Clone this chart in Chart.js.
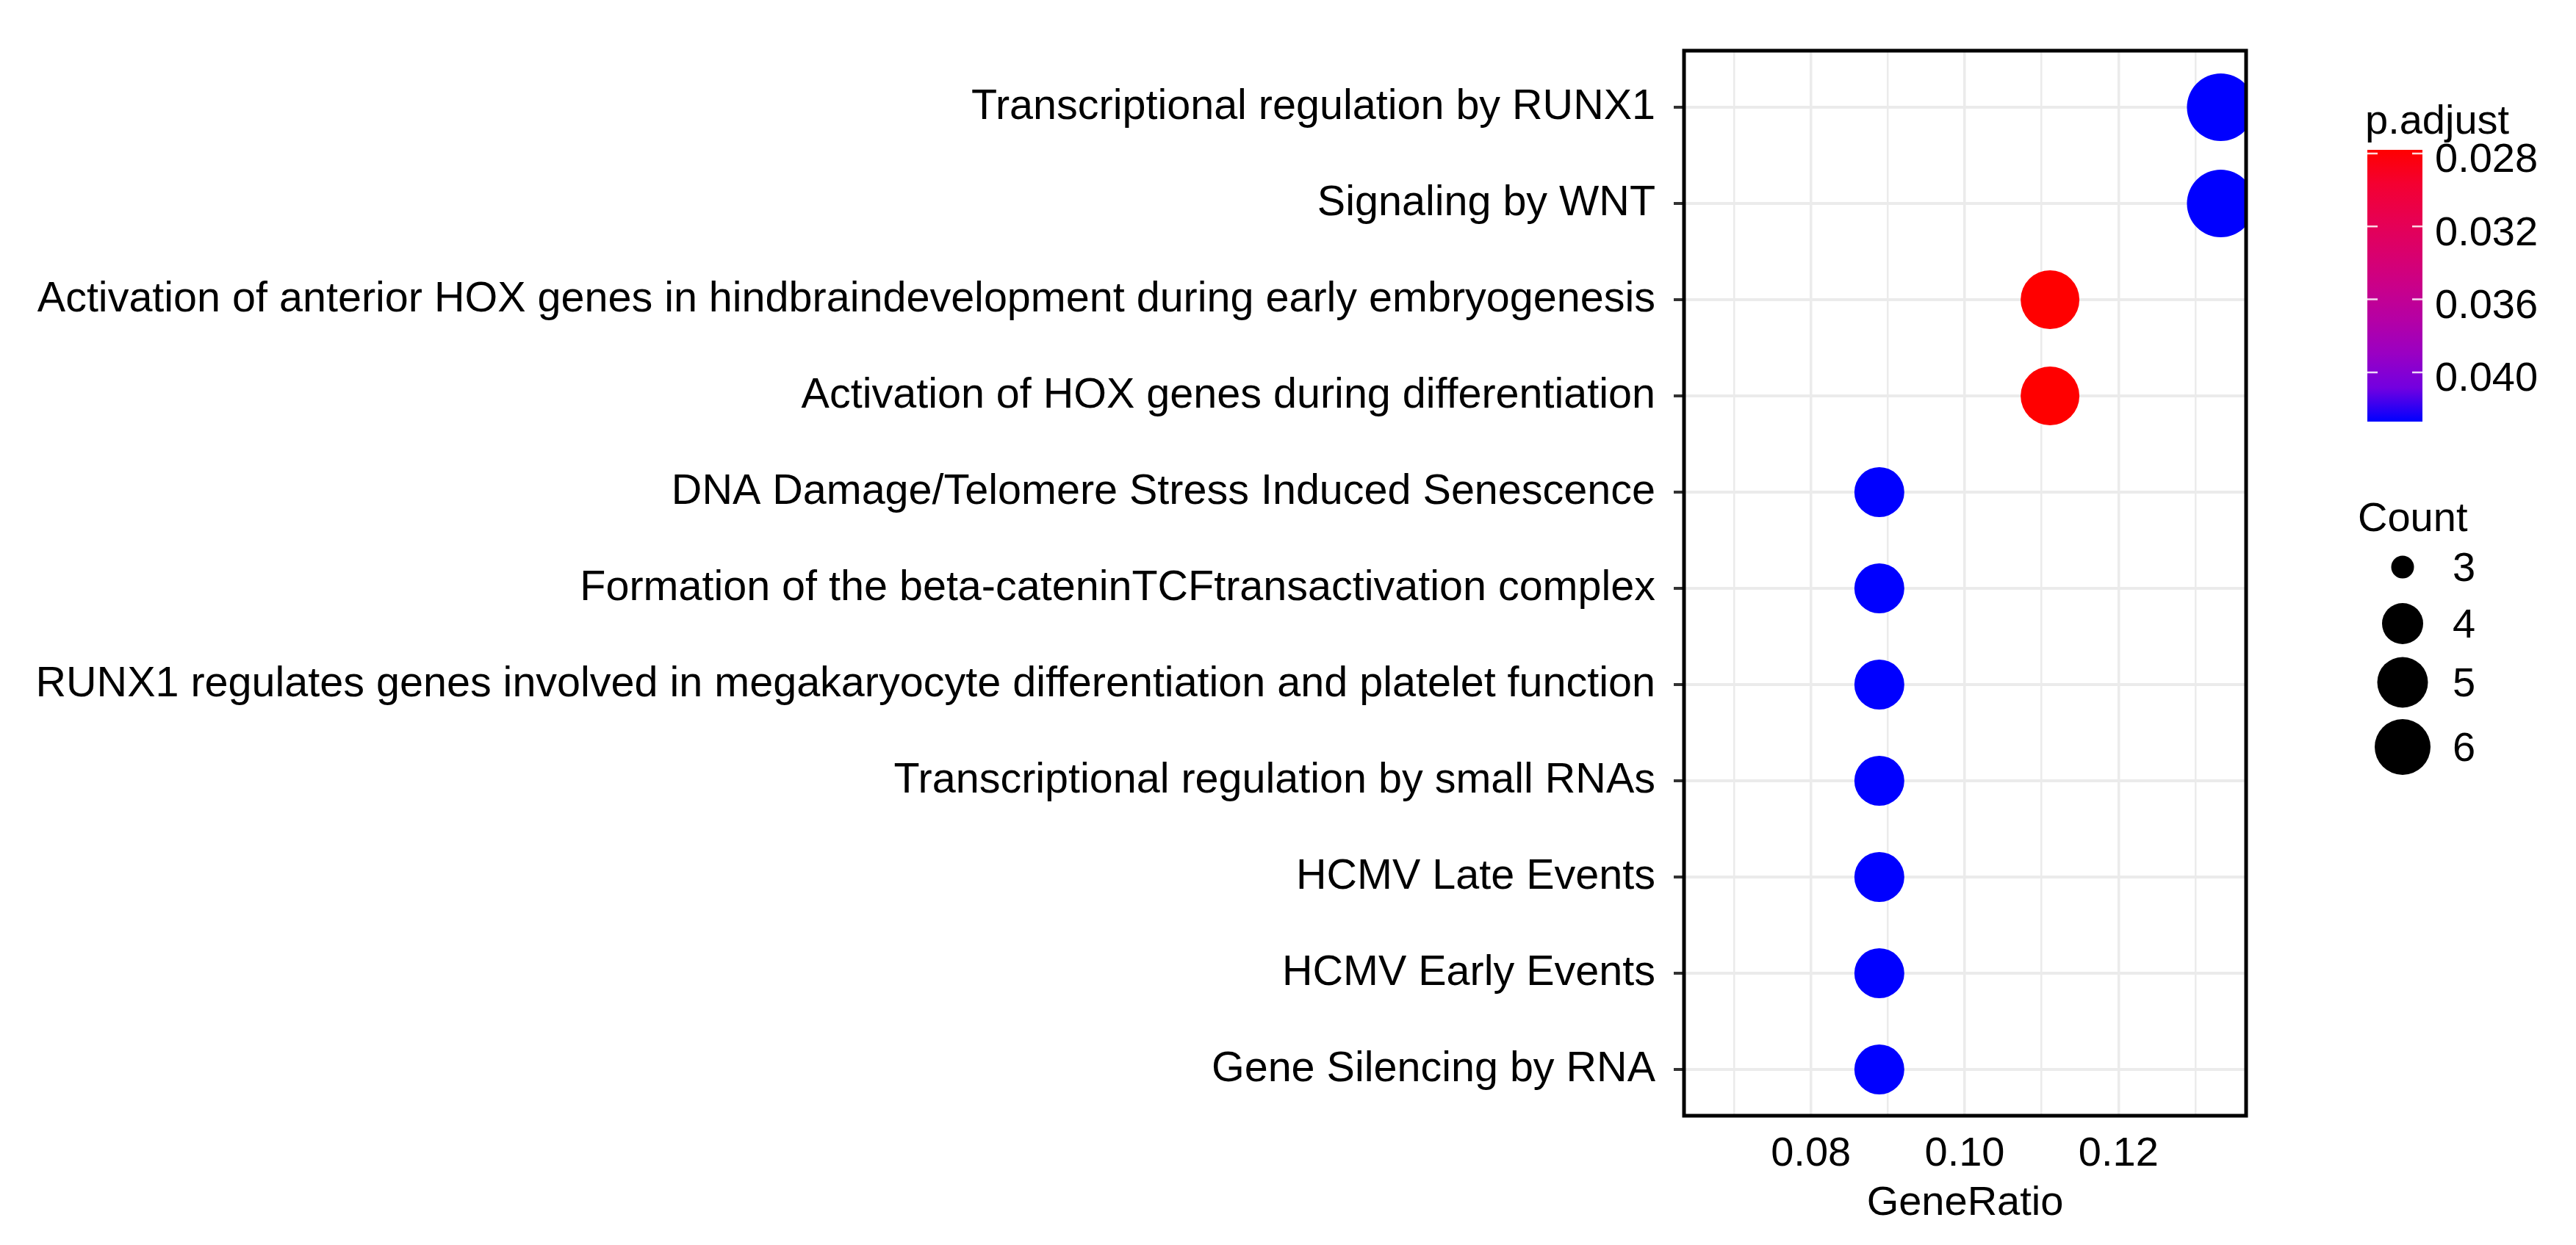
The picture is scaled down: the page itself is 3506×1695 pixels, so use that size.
<!DOCTYPE html>
<html><head><meta charset="utf-8">
<script src="https://cdn.jsdelivr.net/npm/chart.js@4.4.1/dist/chart.umd.min.js"></script>
<style>html,body{margin:0;padding:0;background:#fff;overflow:hidden}canvas{display:block}</style>
</head><body>
<canvas id="c" width="3506" height="1695" style="width:3506px;height:1695px"></canvas>
<script>
// ---------------- data ----------------
const categories = [
  "Transcriptional regulation by RUNX1",
  "Signaling by WNT",
  "Activation of anterior HOX genes in hindbraindevelopment during early embryogenesis",
  "Activation of HOX genes during differentiation",
  "DNA Damage/Telomere Stress Induced Senescence",
  "Formation of the beta-cateninTCFtransactivation complex",
  "RUNX1 regulates genes involved in megakaryocyte differentiation and platelet function",
  "Transcriptional regulation by small RNAs",
  "HCMV Late Events",
  "HCMV Early Events",
  "Gene Silencing by RNA"
];
const geneRatio = [0.1333, 0.1333, 0.1111, 0.1111, 0.0889, 0.0889, 0.0889, 0.0889, 0.0889, 0.0889, 0.0889];
const counts    = [6, 6, 5, 5, 4, 4, 4, 4, 4, 4, 4];
const pAdjust   = [0.0427, 0.0427, 0.0278, 0.0278, 0.0427, 0.0427, 0.0427, 0.0427, 0.0427, 0.0427, 0.0427];
const xTickValues = [0.07, 0.08, 0.09, 0.10, 0.11, 0.12, 0.13];
const xTickLabels = ["", "0.08", "", "0.10", "", "0.12", ""];
const colorbarTicks  = [0.028, 0.032, 0.036, 0.040];
const colorbarLabels = ["0.028", "0.032", "0.036", "0.040"];
const countLegendValues = [3, 4, 5, 6];
const countLegendLabels = ["3", "4", "5", "6"];

// ---------------- styles / helpers ----------------
const FONT = "'Liberation Sans', Arial, Helvetica, sans-serif";
const pMin = Math.min(...pAdjust), pMax = Math.max(...pAdjust);
const stops = [[255,0,0],[244,0,49],[232,0,80],[218,0,108],[202,0,137],[181,0,165],[154,0,195],[115,0,224],[0,0,255]];
function colorAt(t){
  t = Math.max(0, Math.min(1, t));
  const s = t * (stops.length - 1);
  const i = Math.min(stops.length - 2, Math.floor(s));
  const f = s - i, a = stops[i], b = stops[i + 1];
  return 'rgb(' + [0,1,2].map(k => Math.round(a[k] + (b[k] - a[k]) * f)).join(',') + ')';
}
function pColor(p){ return colorAt((p - pMin) / (pMax - pMin)); }
function plotRadius(c){ return 10 + 6 * c; }
const legendRadius = {3: 15.5, 4: 28, 5: 34.5, 6: 38};

const frame = {
  id: 'frame',
  afterDatasetsDraw(chart){
    const {ctx, chartArea: a} = chart;
    ctx.save();
    ctx.strokeStyle = '#000';
    ctx.lineWidth = 5;
    ctx.strokeRect(a.left, a.top, a.right - a.left, a.bottom - a.top);
    ctx.restore();
  }
};

const legends = {
  id: 'legends',
  afterDraw(chart){
    const ctx = chart.ctx;
    ctx.save();
    // colour bar legend
    ctx.fillStyle = '#000';
    ctx.textAlign = 'left';
    ctx.textBaseline = 'alphabetic';
    ctx.font = '56px ' + FONT;
    ctx.fillText('p.adjust', 3219, 182);
    const bx = 3222, by = 204, bw = 75, bh = 370;
    const g = ctx.createLinearGradient(0, by, 0, by + bh);
    stops.forEach((s, i) => g.addColorStop(i / (stops.length - 1), 'rgb(' + s.join(',') + ')'));
    ctx.fillStyle = g;
    ctx.fillRect(bx, by, bw, bh);
    ctx.strokeStyle = 'rgba(255,255,255,0.85)';
    ctx.lineWidth = 2.5;
    ctx.font = '56px ' + FONT;
    ctx.textBaseline = 'middle';
    colorbarTicks.forEach((v, i) => {
      const y = by + (v - pMin) / (pMax - pMin) * bh;
      ctx.beginPath();
      ctx.moveTo(bx, y); ctx.lineTo(bx + 14, y);
      ctx.moveTo(bx + bw - 14, y); ctx.lineTo(bx + bw, y);
      ctx.stroke();
      ctx.fillStyle = '#000';
      ctx.fillText(colorbarLabels[i], 3314, y + 10);
    });
    // size legend
    ctx.textBaseline = 'alphabetic';
    ctx.font = '56px ' + FONT;
    ctx.fillText('Count', 3209, 723);
    const keyY = [772, 849, 929, 1017];
    ctx.textBaseline = 'middle';
    countLegendValues.forEach((c, i) => {
      ctx.fillStyle = '#000';
      ctx.beginPath();
      ctx.arc(3270, keyY[i], legendRadius[c], 0, Math.PI * 2);
      ctx.fill();
      ctx.fillText(countLegendLabels[i], 3338, keyY[i] + 4);
    });
    ctx.restore();
  }
};

new Chart(document.getElementById('c'), {
  type: 'bubble',
  data: {
    datasets: [{
      data: categories.map((c, i) => ({x: geneRatio[i], y: i, r: plotRadius(counts[i])})),
      backgroundColor: ctx => pColor(pAdjust[ctx.dataIndex]),
      borderWidth: 0,
      clip: 0
    }]
  },
  options: {
    responsive: false,
    devicePixelRatio: 1,
    animation: false,
    events: [],
    layout: {padding: {left: 0, top: 69, right: 449, bottom: 0}},
    plugins: {legend: {display: false}, tooltip: {enabled: false}},
    scales: {
      x: {
        type: 'linear', min: 0.0635, max: 0.1366, bounds: 'data',
        afterBuildTicks: s => { s.ticks = xTickValues.map(v => ({value: v})); },
        afterFit: s => { s.height = 176; },
        ticks: {autoSkip: false, maxRotation: 0, padding: 19, color: '#000',
                font: {family: FONT, size: 56},
                callback: (v, i) => xTickLabels[i]},
        grid: {color: '#EBEBEB', lineWidth: c => (xTickLabels[c.index] ? 3.5 : 2.5), drawTicks: false},
        border: {display: false},
        title: {display: true, text: 'GeneRatio', color: '#000',
                font: {family: FONT, size: 56}, padding: {top: 0, bottom: 23}}
      },
      y: {
        type: 'linear', reverse: true, min: -0.588, max: 10.481, bounds: 'data',
        afterBuildTicks: s => { s.ticks = categories.map((c, i) => ({value: i})); },
        afterFit: s => { s.width = 2292; },
        ticks: {autoSkip: false, padding: 25, color: '#000',
                font: {family: FONT, size: 57.5},
                callback: (v, i) => categories[i]},
        grid: {color: '#EBEBEB', lineWidth: 4, drawTicks: true, tickLength: 14,
               tickColor: '#333', tickWidth: 4},
        border: {display: false}
      }
    }
  },
  plugins: [frame, legends]
});
</script>
</body></html>
